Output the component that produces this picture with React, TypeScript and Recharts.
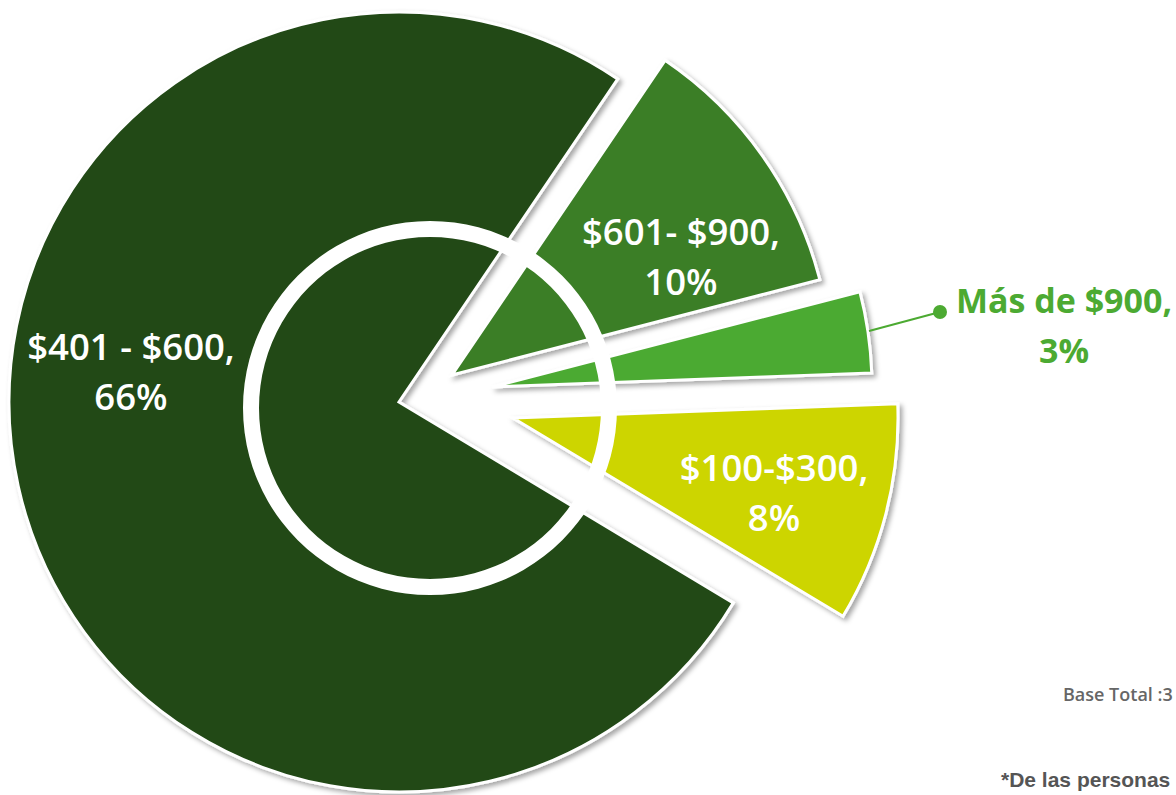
import { PieChart, Pie, Cell } from "recharts";

// slices in drawing order (counter-clockwise from about -31deg)
const categories = ["$100-$300", "Más de $900", "$601- $900", "$401 - $600"];
const values = [8, 3, 10, 66];
const colors = ["#cdd500", "#4caa32", "#3b7e28", "#224a17"];

const W = 1176;
const H = 795;
const START = -31;

// where each exploded slice sits (apex + radius)
const sliceGeo = [
  { cx: 513, cy: 418, r: 385 },
  { cx: 492, cy: 387, r: 380 },
  { cx: 452, cy: 375, r: 380 },
  { cx: 399, cy: 402, r: 390 },
];

// label anchor (centre x, first baseline)
const labelPos = [
  { x: 774, y: 481 },
  { x: 1064, y: 313 },
  { x: 681, y: 245 },
  { x: 131, y: 360 },
];

const data = categories.map((c, i) => ({ name: c, value: values[i] }));

const FONT = "'Open Sans', 'Noto Sans', sans-serif";

function SliceLabel(props: any) {
  const i = props.index;
  const p = labelPos[i];
  const outside = i === 1;
  const fill = outside ? "#4caa32" : "#ffffff";
  const size = outside ? 34 : 36.5;
  return (
    <g>
      {outside && (
        <g>
          <line x1={869} y1={331} x2={940} y2={312} stroke="#4caa32" strokeWidth={2} />
          <circle cx={940} cy={312} r={7} fill="#4caa32" />
        </g>
      )}
      <text x={p.x} y={p.y} textAnchor="middle" fill={fill}
            fontFamily={FONT} fontSize={size} fontWeight={outside ? 700 : 600}>
        {categories[i] + ","}
      </text>
      <text x={p.x} y={p.y + 50} textAnchor="middle" fill={fill}
            fontFamily={FONT} fontSize={size} fontWeight={outside ? 700 : 600}>
        {values[i] + "%"}
      </text>
    </g>
  );
}

export default function App() {
  return (
    <div style={{ position: "absolute", left: 0, top: 0, width: W, height: H, background: "#fff" }}>
      <PieChart width={W} height={H} margin={{ top: 0, right: 0, bottom: 0, left: 0 }}>
        <defs>
          <filter id="sliceShadow" x="-10%" y="-10%" width="130%" height="130%">
            <feDropShadow dx={3} dy={3} stdDeviation={2.5} floodColor="#000" floodOpacity={0.35} />
          </filter>
        </defs>

        {/* big slice first, then the exploded ones */}
        {[3, 0, 1, 2].map(k => (
          <Pie
            key={"slice" + k}
            data={data}
            dataKey="value"
            cx={sliceGeo[k].cx}
            cy={sliceGeo[k].cy}
            outerRadius={sliceGeo[k].r}
            startAngle={START}
            endAngle={START + 360}
            isAnimationActive={false}
            labelLine={false}
          >
            {data.map((_, i) => (
              <Cell
                key={i}
                fill={i === k ? colors[i] : "transparent"}
                stroke={i === k ? "#ffffff" : "none"}
                strokeWidth={3}
                filter={i === k ? "url(#sliceShadow)" : undefined}
              />
            ))}
          </Pie>
        ))}

        {/* white ring */}
        <Pie
          data={[{ name: "ring", value: 1 }]}
          dataKey="value"
          cx={430}
          cy={408}
          innerRadius={171}
          outerRadius={187}
          startAngle={0}
          endAngle={360}
          fill="#ffffff"
          stroke="none"
          isAnimationActive={false}
          labelLine={false}
        />

        {/* label layer */}
        <Pie
          data={data}
          dataKey="value"
          cx={sliceGeo[3].cx}
          cy={sliceGeo[3].cy}
          outerRadius={10}
          startAngle={START}
          endAngle={START + 360}
          fill="transparent"
          stroke="none"
          isAnimationActive={false}
          labelLine={false}
          label={SliceLabel}
        />

        <text x={1063} y={701} fill="#666666" fontFamily={FONT} fontSize={18} fontWeight={600}>
          Base Total :3
        </text>
        <text x={1001} y={787} fill="#555555" fontFamily="'Liberation Sans', Arial, sans-serif"
              fontSize={21} fontWeight={700}>
          *De las personas
        </text>
      </PieChart>
    </div>
  );
}
